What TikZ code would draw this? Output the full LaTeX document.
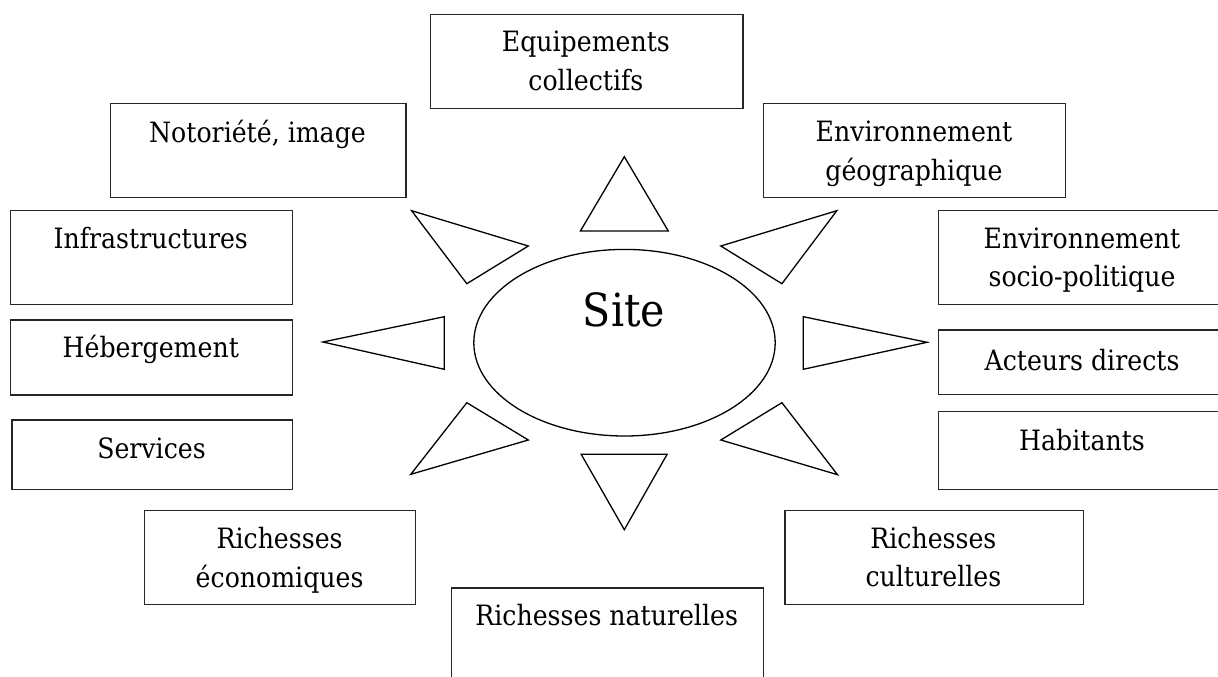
\documentclass[tikz,border=0pt]{standalone}
\usepackage{fontspec}
\setmainfont{DejaVu Serif}[FakeStretch=0.9]
\usetikzlibrary{shapes.geometric}
\tikzset{
  frame/.style={draw=black!85, line width=1.3pt, inner sep=0pt, anchor=north west},
  lbl/.style={inner sep=0pt, anchor=base, align=center, font=\fontsize{28}{38.3}\selectfont},
  ray/.style={draw=black, line width=1.3pt, line join=miter},
}
\begin{document}
\begin{tikzpicture}[x=1pt,y=-1pt]
\useasboundingbox (0,0) rectangle (1218,677);
\clip (0,0) rectangle (1218,677);
% boxes
\node[frame, minimum width=312.7pt, minimum height=94.3pt] (equip) at (429.5,13.7) {};
\node[frame, minimum width=295.7pt, minimum height=93.7pt] (noto) at (109.7,103) {};
\node[frame, minimum width=302.3pt, minimum height=94pt] (envgeo) at (762.8,103) {};
\node[frame, minimum width=282.1pt, minimum height=94pt] (infra) at (9.7,209.7) {};
\node[frame, minimum width=288.1pt, minimum height=94pt] (envsoc) at (937.9,209.7) {};
\node[frame, minimum width=282.1pt, minimum height=75pt] (heberg) at (9.7,319.3) {};
\node[frame, minimum width=288.1pt, minimum height=64.7pt] (acteurs) at (937.9,329.3) {};
\node[frame, minimum width=280.5pt, minimum height=69.7pt] (services) at (11.3,419.3) {};
\node[frame, minimum width=288.1pt, minimum height=78pt] (habitants) at (937.9,411) {};
\node[frame, minimum width=271.1pt, minimum height=94pt] (richeco) at (144,510) {};
\node[frame, minimum width=298.4pt, minimum height=94pt] (richcult) at (784.2,510) {};
\node[frame, minimum width=312.3pt, minimum height=120pt] (richnat) at (450.5,587.3) {};
% labels (anchor=base sits on the last line)
\node[lbl] (equipT) at (585.9,90.2) {Equipements\\collectifs};
\node[lbl] (notoT) at (257.5,142.3) {Notoriété, image};
\node[lbl] (envgeoT) at (914,180.2) {Environnement\\géographique};
\node[lbl] (infraT) at (150.8,248.5) {Infrastructures};
\node[lbl] (envsocT) at (1082,286.9) {Environnement\\socio-politique};
\node[lbl] (hebergT) at (150.8,357) {Hébergement};
\node[lbl] (acteursT) at (1082,370) {Acteurs directs};
\node[lbl] (servicesT) at (151.5,458) {Services};
\node[lbl] (habitantsT) at (1082,450.5) {Habitants};
\node[lbl] (richecoT) at (279.6,587.2) {Richesses\\économiques};
\node[lbl] (richcultT) at (933.4,586.5) {Richesses\\culturelles};
\node[lbl] (richnatT) at (606.7,625) {Richesses naturelles};
% centre
\node[ellipse, draw=black, line width=1.3pt, minimum width=301.4pt, minimum height=186.6pt, inner sep=0pt] (site) at (624.5,342.7) {};
\node[inner sep=0pt, anchor=base, font=\fontsize{45.7}{50}\selectfont] (siteT) at (624,326) {Site};
% rays
\draw[ray] (580.4,231) -- (624.3,156.7) -- (668.3,231) -- cycle;
\draw[ray] (836.8,210.7) -- (720.8,246) -- (781.9,283.7) -- cycle;
\draw[ray] (803.3,316.7) -- (927,342.3) -- (803.3,369.3) -- cycle;
\draw[ray] (781.9,402.7) -- (720.8,440) -- (837.5,474.7) -- cycle;
\draw[ray] (581.2,454.3) -- (667.1,454.3) -- (624.3,529.7) -- cycle;
\draw[ray] (466.8,402.7) -- (528.3,440) -- (410.8,474.3) -- cycle;
\draw[ray] (444.3,316.7) -- (322.9,342) -- (444.3,369.3) -- cycle;
\draw[ray] (411.6,210.7) -- (528.3,246) -- (466.8,283.7) -- cycle;
\end{tikzpicture}
\end{document}
